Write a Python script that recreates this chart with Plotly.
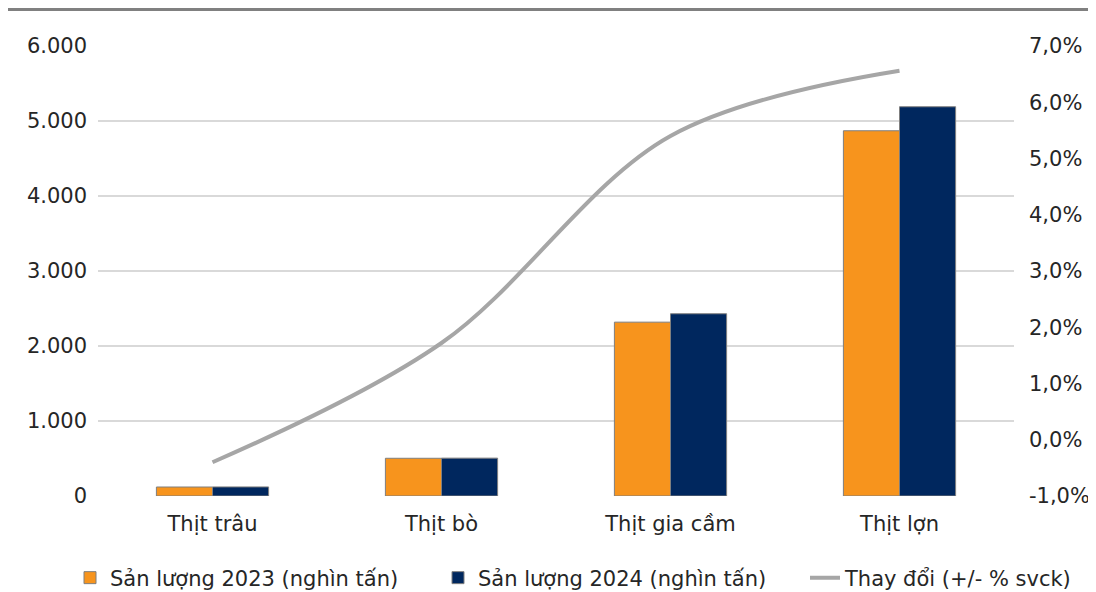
import plotly.graph_objects as go

categories = ["Thịt trâu", "Thịt bò", "Thịt gia cầm", "Thịt lợn"]
san_luong_2023 = [120, 503, 2318, 4870]
san_luong_2024 = [121, 505, 2430, 5190]
thay_doi = [-0.4, 1.72, 5.4, 6.56]

left_ticks = [0, 1000, 2000, 3000, 4000, 5000, 6000]
right_ticks = [-1, 0, 1, 2, 3, 4, 5, 6, 7]
right_labels = ["-1,0%", "0,0%", "1,0%", "2,0%", "3,0%", "4,0%", "5,0%", "6,0%", "7,0%"]

FONT = "DejaVu Sans, Liberation Sans, Arial, sans-serif"
TXT = "#262626"
FS = 21
W, H = 1088, 584

fig = go.Figure()
fig.add_trace(go.Bar(
    x=categories, y=san_luong_2023, name="Sản lượng 2023 (nghìn tấn)", legend="legend",
    marker=dict(color="#F7941D", line=dict(color="#7F7F7F", width=1)),
))
fig.add_trace(go.Bar(
    x=categories, y=san_luong_2024, name="Sản lượng 2024 (nghìn tấn)", legend="legend2",
    marker=dict(color="#00275E", line=dict(color="#7F7F7F", width=1)),
))
fig.add_trace(go.Scatter(
    x=categories, y=thay_doi, name="Thay đổi (+/- % svck)", yaxis="y2", legend="legend3",
    mode="lines", line=dict(color="#A6A6A6", width=4, shape="spline", smoothing=1.0),
))


def leg(text_left):
    return dict(orientation="h", xref="container", x=(text_left - 40) / W, xanchor="left",
                yref="container", y=1 - 570 / H, yanchor="middle",
                font=dict(size=FS, color=TXT), itemwidth=30,
                bgcolor="rgba(0,0,0,0)", borderwidth=0)


fig.update_layout(
    width=W, height=H,
    margin=dict(l=90, r=82, t=38, b=96, autoexpand=False),
    paper_bgcolor="white", plot_bgcolor="white",
    separators=",.",
    font=dict(family=FONT, size=FS, color=TXT),
    barmode="group", bargap=0.51, bargroupgap=0,
    showlegend=True,
    legend=leg(102), legend2=leg(470), legend3=leg(837),
    xaxis=dict(showgrid=False, showline=False, ticks="", ticklabelstandoff=13,
               automargin=False, tickfont=dict(size=FS, color=TXT)),
    yaxis=dict(range=[0, 6000], tickvals=left_ticks, tickformat=",d",
               showgrid=True, gridcolor="#D9D9D9", gridwidth=1.5,
               zeroline=False, showline=False, ticks="", ticklabelstandoff=10,
               automargin=False, tickfont=dict(size=FS, color=TXT)),
    yaxis2=dict(range=[-1, 7], tickvals=right_ticks, ticktext=right_labels,
                overlaying="y", side="right", showgrid=False, zeroline=False,
                showline=False, ticks="", ticklabelstandoff=14,
                automargin=False, tickfont=dict(size=FS, color=TXT)),
    shapes=[dict(type="line", xref="paper", yref="paper", x0=-0.2, x1=1.2,
                 y0=1.081, y1=1.081, line=dict(color="#808080", width=3))],
)

fig.write_html("out.html")
